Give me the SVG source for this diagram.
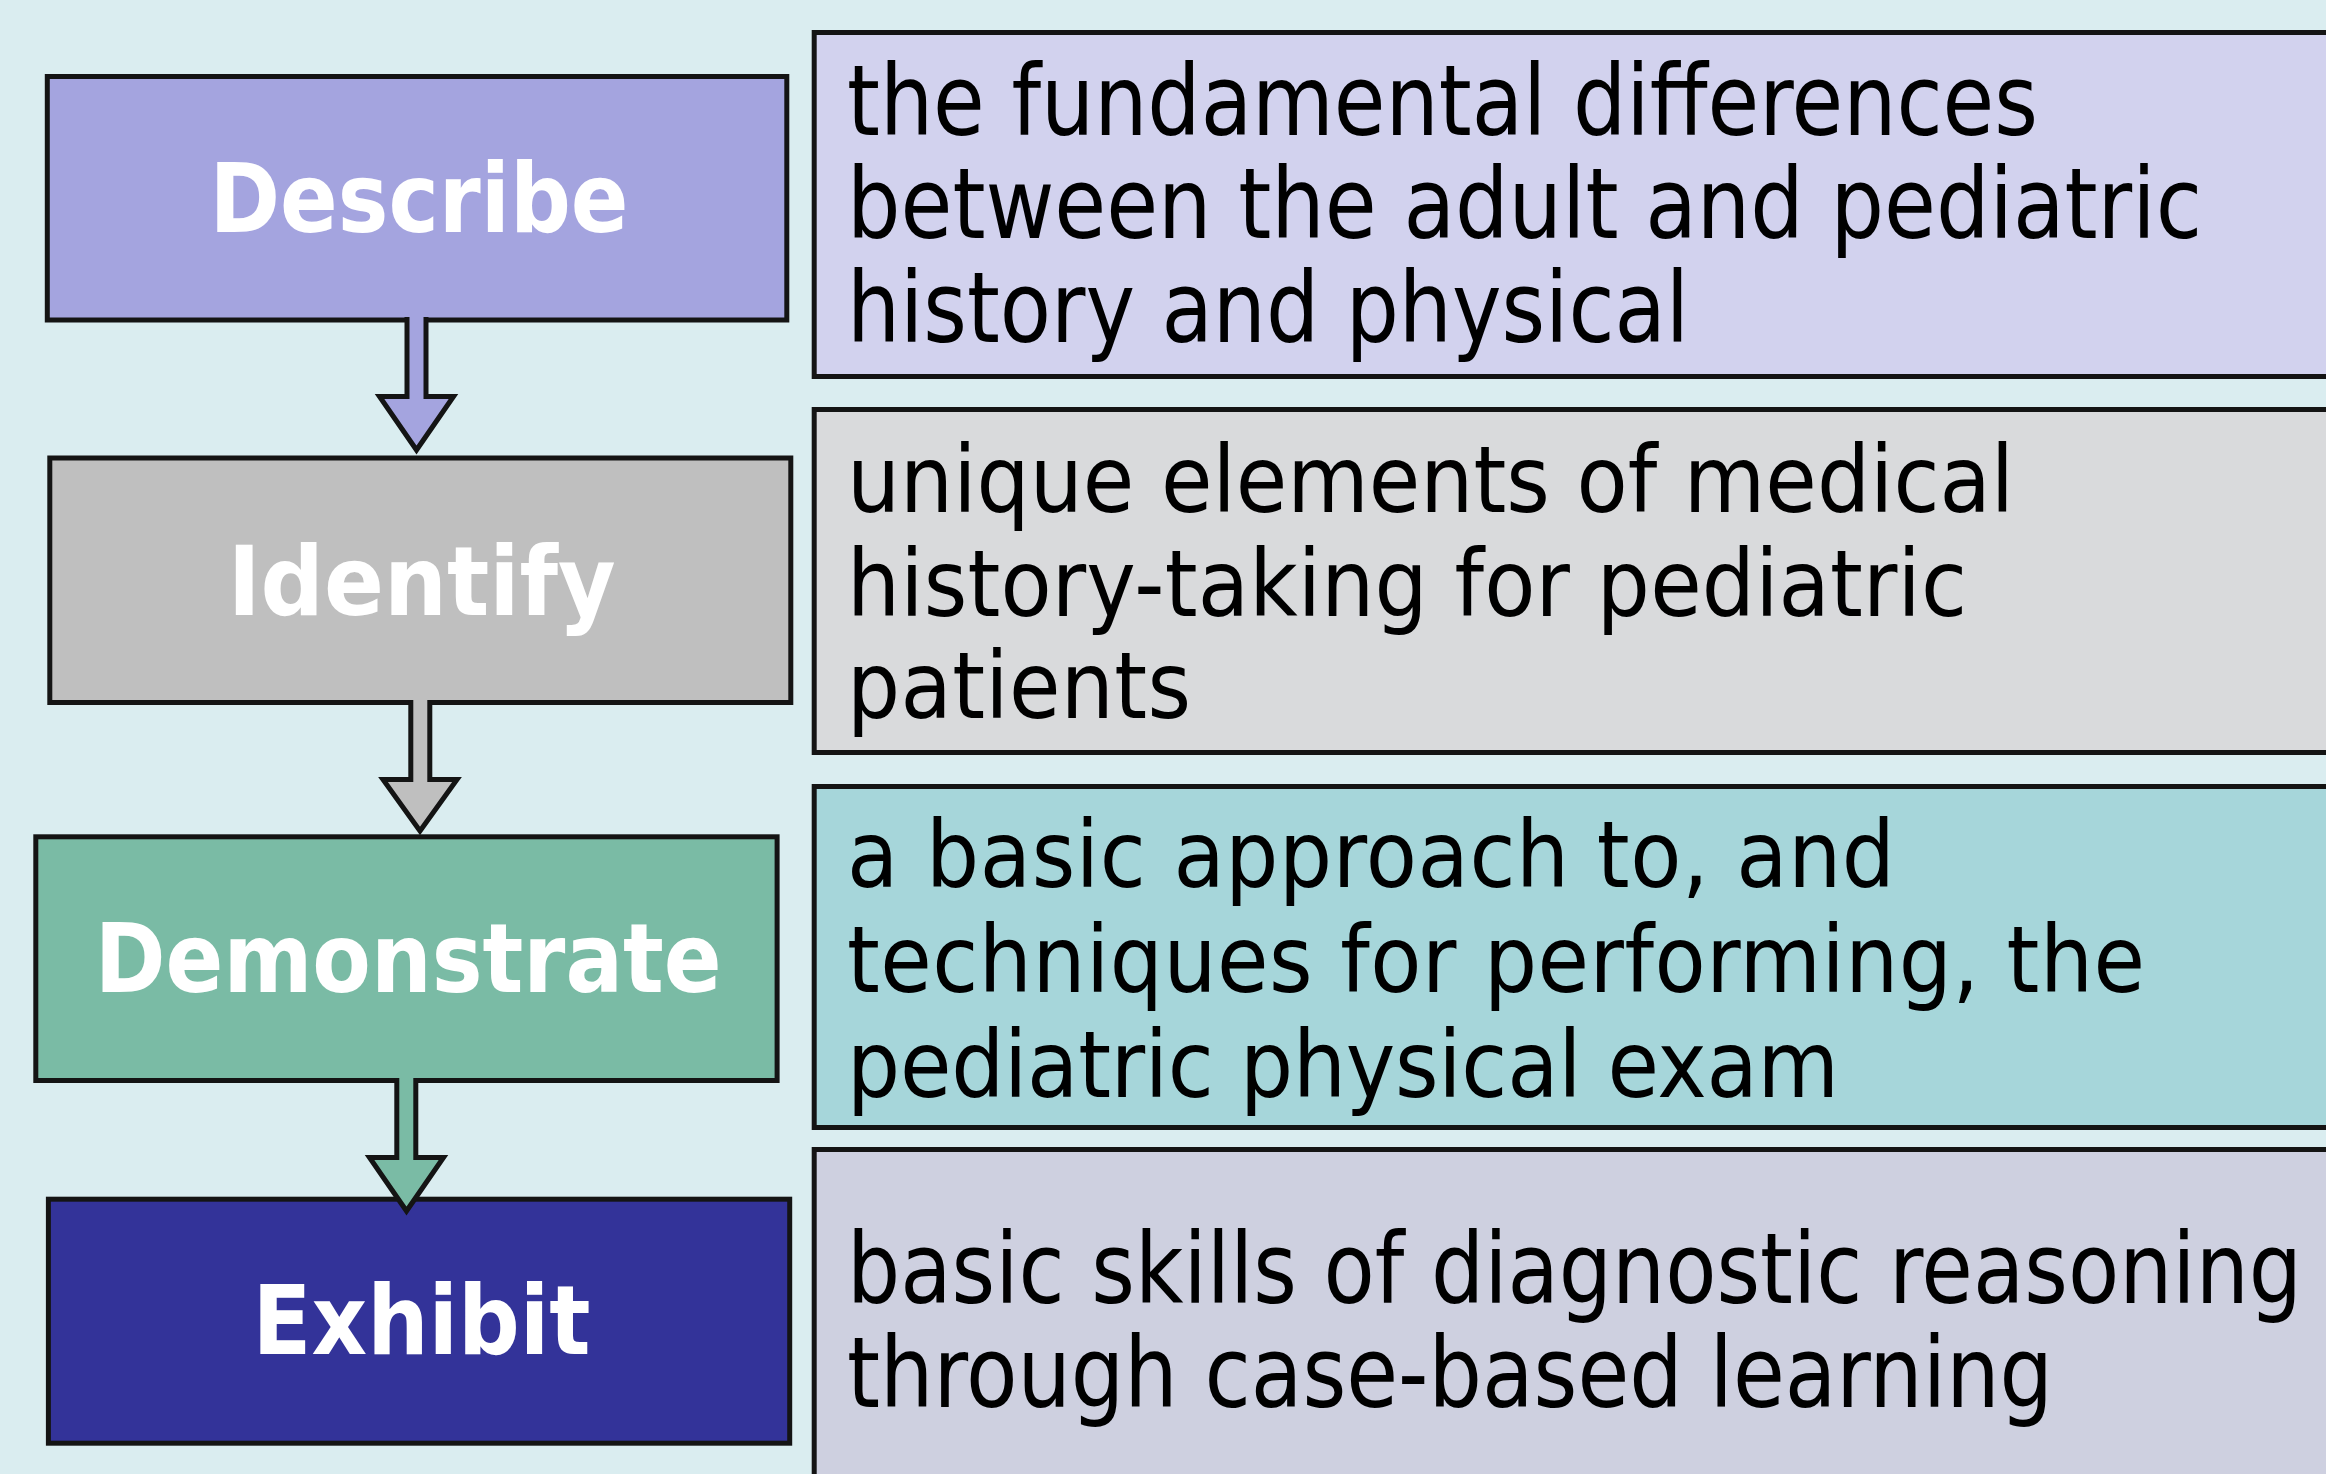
<svg xmlns="http://www.w3.org/2000/svg" width="2326" height="1474" viewBox="0 0 2326 1474">
  <style>
    .box { stroke: #141414; stroke-width: 5; stroke-linejoin: miter; }
    .label { font-family: "DejaVu Sans Condensed", "DejaVu Sans", sans-serif; font-stretch: condensed; font-weight: bold; font-size: 97px; fill: #ffffff; text-anchor: middle; }
    .body { font-family: "DejaVu Sans Condensed", "DejaVu Sans", sans-serif; font-stretch: condensed; fill: #000000; }
    .narrow { font-size: 98px; }
    .wide { font-size: 93px; }
    .arrow { stroke: #141414; stroke-width: 5; stroke-linejoin: miter; stroke-miterlimit: 10; }
  </style>

  <!-- page background -->
  <rect x="0" y="0" width="2326" height="1474" fill="#daedf0"/>

  <!-- step boxes on the left -->
  <g id="describe">
    <rect class="box" x="47.3" y="76.5" width="739.5" height="243.5" fill="#a4a4df"/>
    <text class="label" x="419" y="232" textLength="419" lengthAdjust="spacingAndGlyphs">Describe</text>
  </g>
  <g id="identify">
    <rect class="box" x="49.8" y="458" width="741" height="244.5" fill="#bfbfbf"/>
    <text class="label" x="421.7" y="615" textLength="388" lengthAdjust="spacingAndGlyphs">Identify</text>
  </g>
  <g id="demonstrate">
    <rect class="box" x="35.8" y="836.8" width="741.3" height="243.7" fill="#7abba5"/>
    <text class="label" x="408.2" y="992" textLength="627" lengthAdjust="spacingAndGlyphs">Demonstrate</text>
  </g>
  <g id="exhibit">
    <rect class="box" x="48.4" y="1199.2" width="741.3" height="244" fill="#333399"/>
    <text class="label" x="421.6" y="1354" textLength="338" lengthAdjust="spacingAndGlyphs">Exhibit</text>
  </g>

  <!-- block arrows between the steps -->
  <g id="connectors">
    <path class="arrow" fill="#a4a4df" d="M407 317 V396.5 H379.5 L416.5 450 L453.5 396.5 H426 V317"/>
    <path class="arrow" fill="#bfbfbf" d="M410.8 700 V779.5 H383 L420 831 L457 779.5 H429.8 V700"/>
    <path class="arrow" fill="#7abba5" d="M396.8 1078 V1157.5 H369.5 L406.5 1211 L443.5 1157.5 H415.8 V1078"/>
  </g>

  <!-- description panels on the right -->
  <g id="describe-detail">
    <rect class="box" x="814.2" y="32.5" width="1530" height="344" fill="#d2d2ee"/>
    <g class="body narrow">
      <text x="847" y="135" textLength="1191" lengthAdjust="spacingAndGlyphs">the fundamental differences</text>
      <text x="847" y="237.5" textLength="1355" lengthAdjust="spacingAndGlyphs">between the adult and pediatric</text>
      <text x="847" y="342" textLength="842" lengthAdjust="spacingAndGlyphs">history and physical</text>
    </g>
  </g>
  <g id="identify-detail">
    <rect class="box" x="814.2" y="409.5" width="1530" height="343" fill="#d9dadc"/>
    <g class="body wide">
      <text x="847" y="512" textLength="1167">unique elements of medical</text>
      <text x="847" y="616" textLength="1120">history-taking for pediatric</text>
      <text x="847" y="718" textLength="344">patients</text>
    </g>
  </g>
  <g id="demonstrate-detail">
    <rect class="box" x="814.2" y="786.5" width="1530" height="341" fill="#a6d6da"/>
    <g class="body wide">
      <text x="847" y="886.5" textLength="1048">a basic approach to, and</text>
      <text x="847" y="992" textLength="1298">techniques for performing, the</text>
      <text x="847" y="1096.5" textLength="992">pediatric physical exam</text>
    </g>
  </g>
  <g id="exhibit-detail">
    <rect class="box" x="814.2" y="1149.5" width="1530" height="340" fill="#ced0e0"/>
    <g class="body narrow">
      <text x="847" y="1302.7" textLength="1455" lengthAdjust="spacingAndGlyphs">basic skills of diagnostic reasoning</text>
      <text x="847" y="1406.7" textLength="1206" lengthAdjust="spacingAndGlyphs">through case-based learning</text>
    </g>
  </g>
</svg>
